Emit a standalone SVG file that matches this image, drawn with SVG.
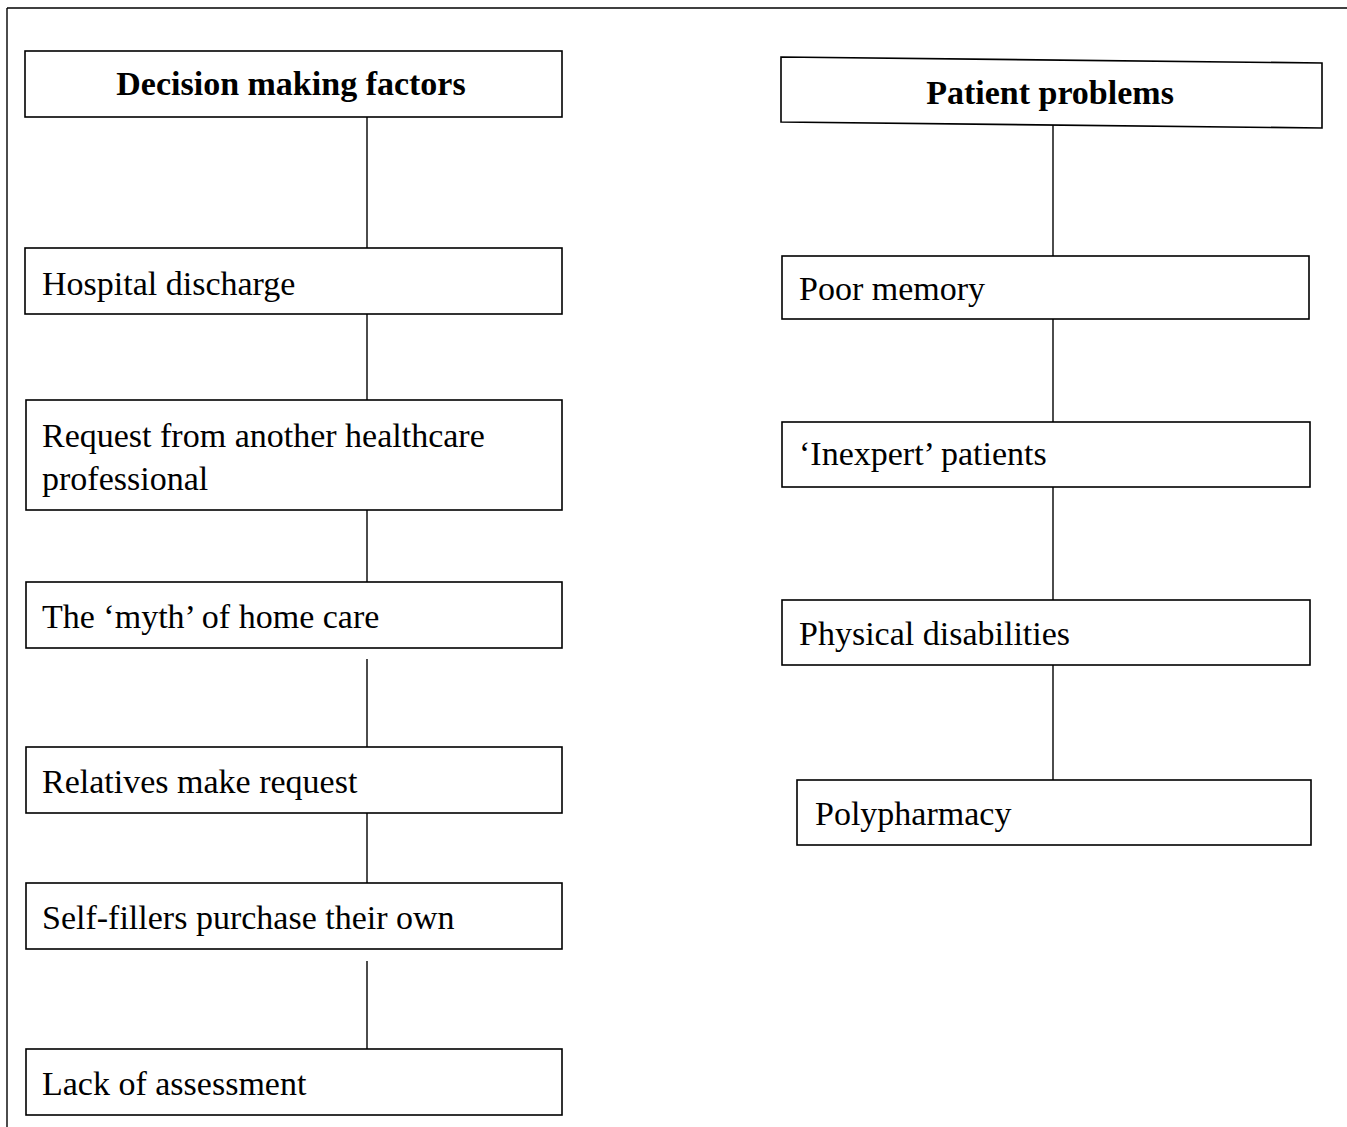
<svg xmlns="http://www.w3.org/2000/svg" width="1347" height="1127" viewBox="0 0 1347 1127">
  <style>
    .box { fill: #fff; stroke: #000; stroke-width: 1.6; }
    .link { stroke: #000; stroke-width: 1.4; fill: none; }
    .frame { stroke: #000; stroke-width: 1.4; fill: none; }
    .lbl { font-family: "Liberation Serif", "Times New Roman", serif; font-size: 34px; fill: #000; }
    .head { font-family: "Liberation Serif", "Times New Roman", serif; font-size: 34px; font-weight: bold; fill: #000; text-anchor: middle; }
  </style>
  <rect width="1347" height="1127" fill="#fff"/>

  <!-- page frame -->
  <g id="frame">
    <line class="frame" x1="7" y1="8" x2="1347" y2="8"/>
    <line class="frame" x1="7" y1="8" x2="7" y2="1127"/>
  </g>

  <!-- connectors -->
  <g id="connectors">
    <line class="link" x1="367" y1="117" x2="367" y2="248"/>
    <line class="link" x1="367" y1="314" x2="367" y2="400"/>
    <line class="link" x1="367" y1="510" x2="367" y2="582"/>
    <line class="link" x1="367" y1="659" x2="367" y2="747"/>
    <line class="link" x1="367" y1="813" x2="367" y2="883"/>
    <line class="link" x1="367" y1="961" x2="367" y2="1049"/>
    <line class="link" x1="1053" y1="125" x2="1053" y2="256"/>
    <line class="link" x1="1053" y1="319" x2="1053" y2="422"/>
    <line class="link" x1="1053" y1="487" x2="1053" y2="600"/>
    <line class="link" x1="1053" y1="665" x2="1053" y2="780"/>
  </g>

  <!-- left column -->
  <g id="decision-making-factors">
    <rect class="box" x="25" y="51" width="537" height="66"/>
    <text class="head" x="291" y="95">Decision making factors</text>
  </g>
  <g id="hospital-discharge">
    <rect class="box" x="25" y="248" width="537" height="66"/>
    <text class="lbl" x="42" y="295">Hospital discharge</text>
  </g>
  <g id="request-professional">
    <rect class="box" x="26" y="400" width="536" height="110"/>
    <text class="lbl" x="42" y="447">Request from another healthcare</text>
    <text class="lbl" x="42" y="490">professional</text>
  </g>
  <g id="myth-home-care">
    <rect class="box" x="26" y="582" width="536" height="66"/>
    <text class="lbl" x="42" y="628">The ‘myth’ of home care</text>
  </g>
  <g id="relatives-request">
    <rect class="box" x="26" y="747" width="536" height="66"/>
    <text class="lbl" x="42" y="793">Relatives make request</text>
  </g>
  <g id="self-fillers">
    <rect class="box" x="26" y="883" width="536" height="66"/>
    <text class="lbl" x="42" y="929">Self-fillers purchase their own</text>
  </g>
  <g id="lack-of-assessment">
    <rect class="box" x="26" y="1049" width="536" height="66"/>
    <text class="lbl" x="42" y="1095">Lack of assessment</text>
  </g>

  <!-- right column -->
  <g id="patient-problems">
    <polygon class="box" points="781,57 1322,63 1322,128 781,122"/>
    <text class="head" x="1050" y="104">Patient problems</text>
  </g>
  <g id="poor-memory">
    <rect class="box" x="782" y="256" width="527" height="63"/>
    <text class="lbl" x="799" y="300">Poor memory</text>
  </g>
  <g id="inexpert-patients">
    <rect class="box" x="782" y="422" width="528" height="65"/>
    <text class="lbl" x="799" y="465">‘Inexpert’ patients</text>
  </g>
  <g id="physical-disabilities">
    <rect class="box" x="782" y="600" width="528" height="65"/>
    <text class="lbl" x="799" y="645">Physical disabilities</text>
  </g>
  <g id="polypharmacy">
    <rect class="box" x="797" y="780" width="514" height="65"/>
    <text class="lbl" x="815" y="825">Polypharmacy</text>
  </g>
</svg>
